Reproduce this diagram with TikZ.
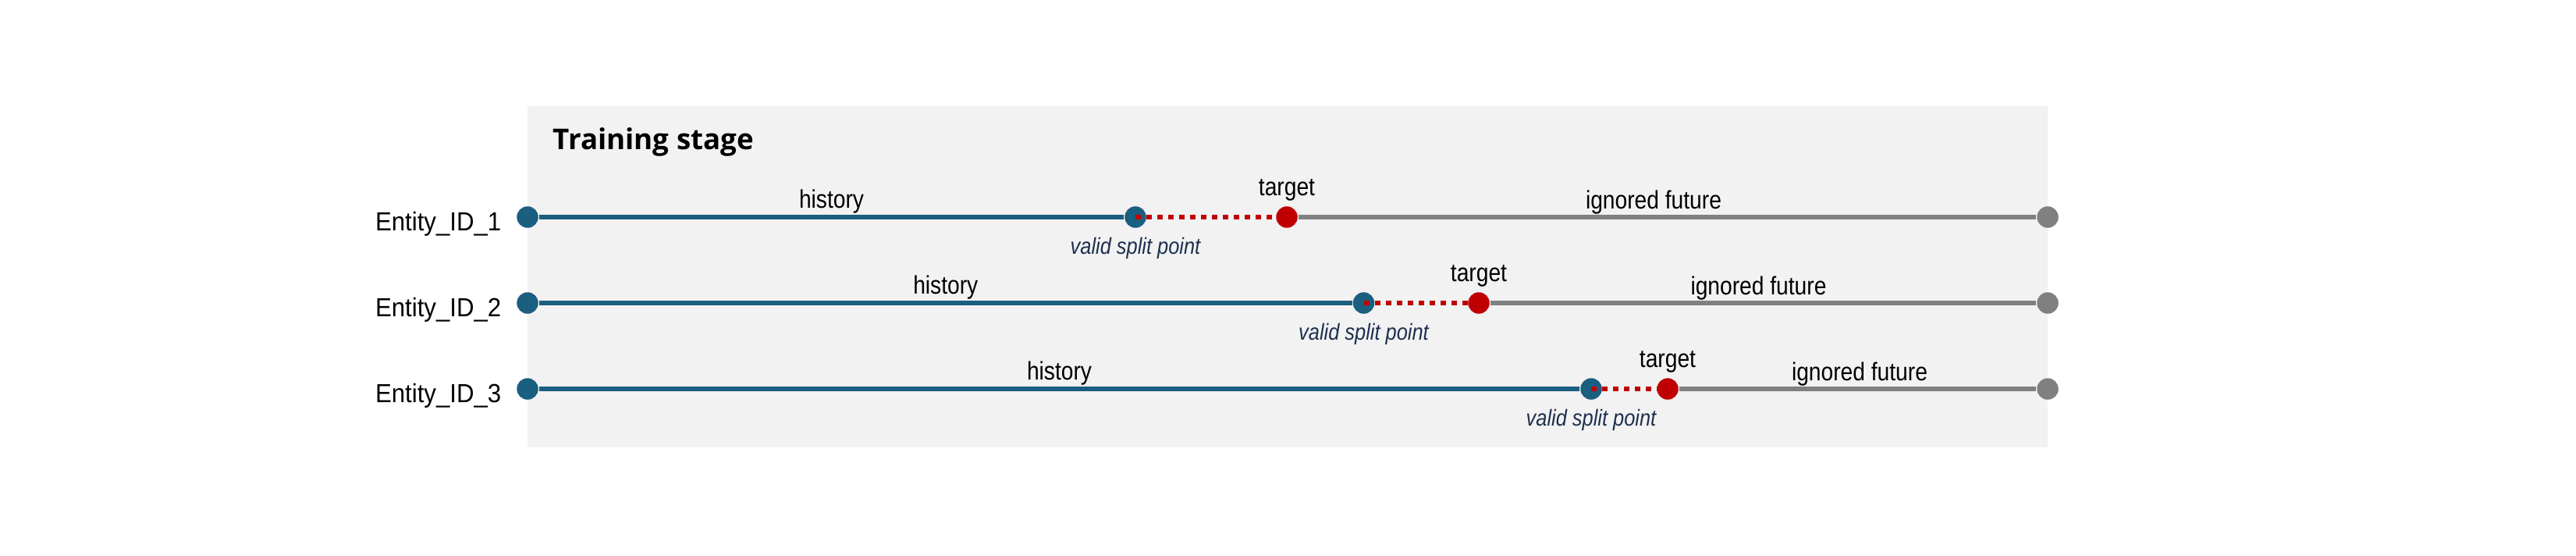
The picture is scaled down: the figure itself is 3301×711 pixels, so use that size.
\documentclass[tikz,border=0pt]{standalone}
\usepackage{fontspec}
\setmainfont{Liberation Sans}
\newfontfamily\lblfont[FakeStretch=0.865]{Liberation Sans}
\newfontfamily\entfont[FakeStretch=0.93]{Liberation Sans}
\newfontfamily\ttlfont{Open Sans}
\usetikzlibrary{calc}
\definecolor{histblue}{RGB}{26,94,128}
\definecolor{tgtred}{RGB}{192,0,0}
\definecolor{futgrey}{RGB}{128,128,128}
\definecolor{boxgrey}{RGB}{242,242,242}
\definecolor{splitnavy}{RGB}{30,48,78}
\tikzset{
  dotnode/.style={circle, inner sep=0pt, minimum size=6.6pt, draw=none},
  bluedot/.style={dotnode, fill=histblue},
  reddot/.style={dotnode, fill=tgtred},
  greydot/.style={dotnode, fill=futgrey},
  histline/.style={draw=histblue, line width=1.66pt},
  futline/.style={draw=futgrey, line width=1.66pt},
  gapline/.style={draw=tgtred, line width=1.66pt, dash pattern=on 1.68pt off 1.68pt},
  lbl/.style={inner sep=0pt, anchor=base, font=\lblfont\fontsize{7.82pt}{9pt}\selectfont, text=black},
  splitlbl/.style={inner sep=0pt, anchor=base, font=\lblfont\itshape\fontsize{7.05pt}{8.5pt}\selectfont, text=splitnavy},
  entlbl/.style={inner sep=0pt, anchor=base east, font=\entfont\fontsize{8.04pt}{9.5pt}\selectfont, text=black},
  ttl/.style={inner sep=0pt, anchor=base west, font=\ttlfont\bfseries\fontsize{8.8pt}{10pt}\selectfont, text=black}
}
\begin{document}
\begin{tikzpicture}[x=0.24pt, y=-0.24pt]
\useasboundingbox (0,0) rectangle (3301,711);
\fill[boxgrey] (676,136) rectangle (2624,573);
\node[ttl] (title) at (708,191) {Training stage};
% row dots
\foreach \r/\y/\s/\t in {1/278/1455/1649, 2/388/1747.5/1895, 3/498/2039/2137}{
  \coordinate (pa\r) at (676,\y);
  \coordinate (ps\r) at (\s,\y);
  \coordinate (pt\r) at (\t,\y);
  \coordinate (pe\r) at (2624,\y);
}
% row 1
\node[bluedot] (a1) at (pa1) {};
\node[bluedot] (s1) at (ps1) {};
\node[greydot] (e1) at (pe1) {};
\draw[histline] (a1) -- (s1);
\draw[gapline] (s1.center) -- (pt1);
\node[reddot] (t1) at (pt1) {};
\draw[futline] (t1) -- (e1);
% row 2
\node[bluedot] (a2) at (pa2) {};
\node[bluedot] (s2) at (ps2) {};
\node[greydot] (e2) at (pe2) {};
\draw[histline] (a2) -- (s2);
\draw[gapline] (s2.center) -- (pt2);
\node[reddot] (t2) at (pt2) {};
\draw[futline] (t2) -- (e2);
% row 3
\node[bluedot] (a3) at (pa3) {};
\node[bluedot] (s3) at (ps3) {};
\node[greydot] (e3) at (pe3) {};
\draw[histline] (a3) -- (s3);
\draw[gapline] (s3.center) -- (pt3);
\node[reddot] (t3) at (pt3) {};
\draw[futline] (t3) -- (e3);
% entity labels
\node[entlbl] (n1) at ([yshift=-4.3pt]643,278) {Entity\_ID\_1};
\node[entlbl] (n2) at ([yshift=-4.3pt]643,388) {Entity\_ID\_2};
\node[entlbl] (n3) at ([yshift=-4.3pt]643,498) {Entity\_ID\_3};
% history labels
\node[lbl] (h1) at ([yshift=2.75pt]$(a1)!0.5!(s1)$) {history};
\node[lbl] (h2) at ([yshift=2.75pt]$(a2)!0.5!(s2)$) {history};
\node[lbl] (h3) at ([yshift=2.75pt]$(a3)!0.5!(s3)$) {history};
% target labels
\node[lbl] (g1) at ([yshift=6.5pt]t1.center) {target};
\node[lbl] (g2) at ([yshift=6.5pt]t2.center) {target};
\node[lbl] (g3) at ([yshift=6.5pt]t3.center) {target};
% valid split point labels
\node[splitlbl] (v1) at ([yshift=-11.5pt]s1.center) {valid split point};
\node[splitlbl] (v2) at ([yshift=-11.5pt]s2.center) {valid split point};
\node[splitlbl] (v3) at ([yshift=-11.5pt]s3.center) {valid split point};
% ignored future labels
\node[lbl] (f1) at ([yshift=2.6pt]2119,278) {ignored future};
\node[lbl] (f2) at ([yshift=2.6pt]2253.5,388) {ignored future};
\node[lbl] (f3) at ([yshift=2.6pt]2383,498) {ignored future};
\end{tikzpicture}
\end{document}
